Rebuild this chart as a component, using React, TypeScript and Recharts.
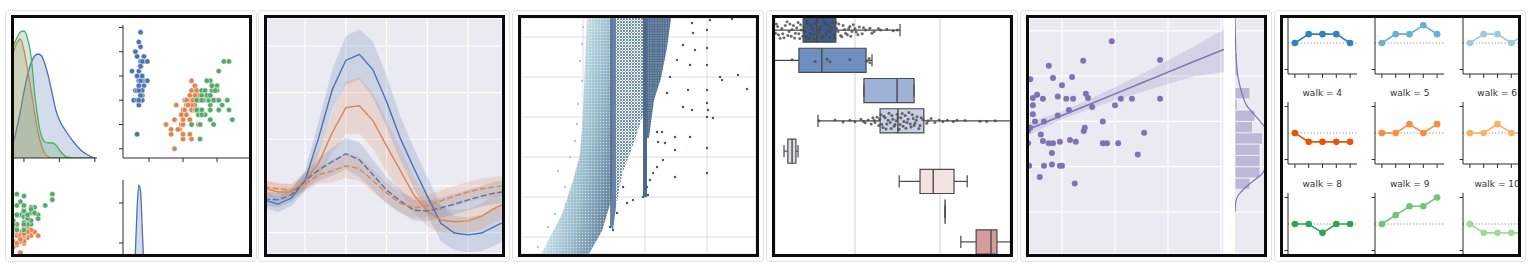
import React from 'react';
import {
  ComposedChart,
  LineChart,
  Line,
  Area,
  Scatter,
  XAxis,
  YAxis,
  CartesianGrid,
  ReferenceLine,
  ReferenceArea,
} from 'recharts';

// seaborn "deep" colours
const BLUE = '#4c72b0';
const ORANGE = '#dd8452';
const GREEN = '#55a868';
const PURPLE = '#8172b3';
const INK = '#2b2b2b';

// ---------- panel 1: iris pair plot (sepal width / petal length) ----------
const setosaSepalWidth = [3.5, 3.0, 3.2, 3.1, 3.6, 3.9, 3.4, 3.4, 2.9, 3.1, 3.7, 3.4, 3.0, 3.0, 4.0, 4.4, 3.9, 3.5, 3.8, 3.8, 3.4, 3.7, 3.6, 3.3, 3.4, 3.0, 3.4, 3.5, 3.4, 3.2, 3.1, 3.4, 4.1, 4.2, 3.1, 3.2, 3.5, 3.1, 3.0, 3.4, 3.5, 2.3, 3.2, 3.5, 3.8, 3.0, 3.8, 3.2, 3.7, 3.3];
const setosaPetalLength = [1.4, 1.4, 1.3, 1.5, 1.4, 1.7, 1.4, 1.5, 1.4, 1.5, 1.5, 1.6, 1.4, 1.1, 1.2, 1.5, 1.3, 1.4, 1.7, 1.5, 1.7, 1.5, 1.0, 1.7, 1.9, 1.6, 1.6, 1.5, 1.4, 1.6, 1.6, 1.5, 1.5, 1.4, 1.5, 1.2, 1.3, 1.5, 1.3, 1.5, 1.3, 1.3, 1.3, 1.6, 1.9, 1.4, 1.6, 1.4, 1.5, 1.4];
const versicolorSepalWidth = [3.2, 3.2, 3.1, 2.3, 2.8, 2.8, 3.3, 2.4, 2.9, 2.7, 2.0, 3.0, 2.2, 2.9, 2.9, 3.1, 3.0, 2.7, 2.2, 2.5, 3.2, 2.8, 2.5, 2.8, 2.9, 3.0, 2.8, 3.0, 2.9, 2.6, 2.4, 2.4, 2.7, 2.7, 3.0, 3.4, 3.1, 2.3, 3.0, 2.5, 2.6, 3.0, 2.6, 2.3, 2.7, 3.0, 2.9, 2.9, 2.5, 2.8];
const versicolorPetalLength = [4.7, 4.5, 4.9, 4.0, 4.6, 4.5, 4.7, 3.3, 4.6, 3.9, 3.5, 4.2, 4.0, 4.7, 3.6, 4.4, 4.5, 4.1, 4.5, 3.9, 4.8, 4.0, 4.9, 4.7, 4.3, 4.4, 4.8, 5.0, 4.5, 3.5, 3.8, 3.7, 3.9, 5.1, 4.5, 4.5, 4.7, 4.4, 4.1, 4.0, 4.4, 4.6, 4.0, 3.3, 4.2, 4.2, 4.2, 4.3, 3.0, 4.1];
const virginicaSepalWidth = [3.3, 2.7, 3.0, 2.9, 3.0, 3.0, 2.5, 2.9, 2.5, 3.6, 3.2, 2.7, 3.0, 2.5, 2.8, 3.2, 3.0, 3.8, 2.6, 2.2, 3.2, 2.8, 2.8, 2.7, 3.3, 3.2, 2.8, 3.0, 2.8, 3.0, 2.8, 3.8, 2.8, 2.8, 2.6, 3.0, 3.4, 3.1, 3.0, 3.1, 3.1, 3.1, 2.7, 3.2, 3.3, 3.0, 2.5, 3.0, 3.4, 3.0];
const virginicaPetalLength = [6.0, 5.1, 5.9, 5.6, 5.8, 6.6, 4.5, 6.3, 5.8, 6.1, 5.1, 5.3, 5.5, 5.0, 5.1, 5.3, 5.5, 6.7, 6.9, 5.0, 5.7, 4.9, 6.7, 4.9, 5.7, 6.0, 4.8, 4.9, 5.6, 5.8, 6.1, 6.4, 5.6, 5.1, 5.6, 6.1, 5.6, 5.5, 4.8, 5.4, 5.6, 5.1, 5.1, 5.9, 5.7, 5.2, 5.0, 5.2, 5.4, 5.1];

// density curves
const sepalGrid = [2.0, 2.2, 2.4, 2.6, 2.7, 2.8, 2.9, 3.0, 3.1, 3.2, 3.3, 3.4, 3.5, 3.6, 3.7, 3.8, 3.9, 4.0, 4.2, 4.4, 4.6, 4.8, 5.0];
const setosaSepalKde = [0.0, 0.03, 0.07, 0.12, 0.16, 0.3, 0.47, 0.66, 0.83, 0.95, 1.02, 1.04, 1.02, 0.93, 0.8, 0.64, 0.48, 0.38, 0.26, 0.16, 0.08, 0.03, 0.0];
const versicolorSepalKde = [0.2, 0.45, 0.72, 0.92, 1.05, 1.15, 1.19, 1.08, 0.89, 0.68, 0.45, 0.25, 0.12, 0.04, 0.01, 0, 0, 0, 0, 0, 0, 0, 0];
const virginicaSepalKde = [0.08, 0.25, 0.5, 0.92, 1.11, 1.2, 1.26, 1.27, 1.2, 1.02, 0.66, 0.38, 0.21, 0.16, 0.15, 0.15, 0.13, 0.08, 0.01, 0, 0, 0, 0];
const petalGrid = [0.9, 1.0, 1.1, 1.2, 1.3, 1.4, 1.5, 1.6, 1.7, 1.8, 1.9, 2.0];
const setosaPetalKde = [0, 0.08, 0.3, 0.62, 1.05, 1.28, 1.22, 0.85, 0.45, 0.2, 0.07, 0.02];

// ---------- panel 2: fmri timeseries ----------
const timepoints = [0, 1, 2, 3, 4, 5, 6, 7, 8, 9, 10, 11, 12, 13, 14, 15, 16, 17, 18];
const stimParietal = [-0.03, -0.039, -0.026, 0.011, 0.103, 0.206, 0.269, 0.282, 0.249, 0.181, 0.103, 0.039, -0.022, -0.08, -0.101, -0.105, -0.101, -0.086, -0.073];
const stimParietalCi = [0.017, 0.017, 0.017, 0.022, 0.034, 0.043, 0.052, 0.054, 0.06, 0.056, 0.047, 0.043, 0.041, 0.039, 0.037, 0.037, 0.039, 0.041, 0.041];
const stimFrontal = [-0.004, -0.013, -0.013, 0.011, 0.049, 0.114, 0.168, 0.172, 0.14, 0.086, 0.034, -0.019, -0.054, -0.073, -0.077, -0.075, -0.065, -0.047, -0.034];
const stimFrontalCi = [0.017, 0.017, 0.017, 0.019, 0.03, 0.043, 0.056, 0.06, 0.06, 0.056, 0.047, 0.039, 0.032, 0.028, 0.026, 0.026, 0.028, 0.03, 0.032];
const cueParietal = [-0.028, -0.03, -0.019, 0.011, 0.034, 0.052, 0.069, 0.056, 0.024, -0.009, -0.032, -0.052, -0.054, -0.047, -0.039, -0.03, -0.022, -0.015, -0.011];
const cueParietalCi = [0.015, 0.015, 0.015, 0.017, 0.024, 0.03, 0.034, 0.037, 0.032, 0.028, 0.024, 0.022, 0.022, 0.022, 0.022, 0.022, 0.022, 0.024, 0.024];
const cueFrontal = [-0.002, -0.006, -0.009, 0.004, 0.024, 0.032, 0.043, 0.037, 0.011, -0.015, -0.037, -0.047, -0.043, -0.032, -0.022, -0.013, -0.006, -0.002, 0.002];
const cueFrontalCi = [0.013, 0.013, 0.013, 0.015, 0.019, 0.024, 0.026, 0.026, 0.024, 0.022, 0.022, 0.022, 0.022, 0.022, 0.022, 0.022, 0.022, 0.022, 0.022];

// ---------- panel 3: diamonds, carat vs price (k$) ----------
// dense regions as [carat, low price, high price]
const cloudMain = [[0.161, 1.15, 1.16], [0.194, 1.15, 1.5], [0.331, 1.15, 3.15], [0.419, 1.15, 4.8], [0.476, 1.15, 6.15], [0.5, 1.15, 8.15], [0.516, 1.15, 10.65], [0.532, 1.15, 12.95], [0.548, 1.15, 12.95], [0.653, 2.3, 12.95], [0.726, 3.8, 12.95], [0.734, 4.5, 12.95]];
const stripeSeven = [[0.718, 2.6, 12.95], [0.742, 2.35, 12.95], [0.766, 3.5, 12.95]];
const bandNine = [[0.766, 3.5, 12.95], [0.815, 5.15, 12.95], [0.895, 6.45, 12.95], [0.976, 7.95, 12.95], [0.984, 8.2, 12.95]];
const stripeOne = [[0.984, 4.0, 12.95], [1.016, 4.0, 12.95]];
const bandHeavy = [[1.016, 6.95, 12.95], [1.032, 6.95, 12.95], [1.073, 8.85, 12.95], [1.129, 9.95, 12.95], [1.177, 11.45, 12.95], [1.21, 12.95, 12.95]];
const darkDiamonds = [[1.5, 12.35], [1.5, 11.45], [1.5, 10.6], [1.5, 9.35], [1.5, 8.7], [1.508, 8.35], [1.5, 8.0], [1.548, 7.95], [1.5, 6.45], [1.5, 5.2], [1.605, 10.0], [1.621, 9.85], [1.75, 10.1], [1.823, 9.4], [1.702, 12.9], [1.363, 10.6], [1.306, 8.5], [1.379, 8.35], [1.347, 9.35], [1.363, 7.0], [1.242, 6.35], [1.242, 7.0], [1.242, 5.0], [1.161, 6.7], [1.097, 7.25], [1.137, 7.25], [1.105, 6.75], [1.065, 5.2], [1.04, 4.85], [1.016, 4.5], [1.097, 5.5], [1.145, 5.85], [1.306, 11.6], [1.258, 10.85], [1.202, 10.0], [1.177, 9.2], [1.024, 4.1], [0.984, 4.0], [0.903, 3.85], [0.855, 3.7], [0.823, 4.5], [0.774, 3.2], [0.742, 2.35], [0.718, 2.5], [1.387, 12.2], [1.379, 12.7], [1.524, 12.85], [1.403, 11.35]];
const lightDiamonds = [[0.298, 5.3], [0.452, 7.65], [0.492, 9.8], [0.5, 12.5], [0.355, 4.5], [0.395, 6.0], [0.435, 6.8], [0.46, 8.65], [0.476, 10.8], [0.492, 11.65], [0.137, 1.5], [0.218, 2.5], [0.274, 3.15]];

// ---------- panel 4: planets, log10 orbital period by method ----------
const methodRows = [0, 1, 2, 3, 4, 5, 6, 7];
const methodColors = ['#3f5b89', '#6f8fc1', '#9eb1d6', '#c8cfe3', '#dedde6', '#f3e2e2', '#e8c4c4', '#d49c9a'];
const periodLow = [-0.05, -0.1, 2.21, 1.13, 0.33, 3.04, 4.12, 4.49];
const periodQ1 = [0.78, 0.68, 2.21, 2.59, 0.42, 3.53, 4.12, 4.85];
const periodMedian = [1.1, 1.22, 2.99, 3.01, 0.52, 3.84, 4.12, 5.2];
const periodQ3 = [1.55, 2.26, 3.39, 3.62, 0.61, 4.33, 4.12, 5.34];
const periodHigh = [3.06, 2.4, 3.39, 5.8, 0.66, 4.64, 4.12, 5.8];
// strip points as [log10 period, row position]
const stripPoints = [
  [0.15, -0.2], [0.2, 0.15], [0.28, -0.05], [0.33, 0.25], [0.4, -0.28], [0.45, 0.05], [0.5, 0.2], [0.55, -0.15], [0.6, 0.1], [0.66, -0.25], [0.7, 0.28], [0.74, 0.0], [0.8, -0.1], [0.85, 0.22], [0.9, -0.22], [0.95, 0.12], [1.0, -0.05], [1.05, 0.3], [1.1, -0.3], [1.15, 0.08], [1.2, -0.12], [1.25, 0.2], [1.3, -0.2], [1.35, 0.02], [1.4, 0.25], [1.45, -0.08], [1.5, 0.15], [1.55, -0.25], [1.6, 0.05], [1.66, 0.18], [1.72, -0.15], [1.78, 0.1], [1.85, -0.05], [1.9, 0.2], [1.96, -0.18], [2.03, 0.06], [2.1, -0.1], [2.17, 0.12], [2.25, 0.0], [2.35, -0.06], [2.45, 0.05], [2.6, 0.0], [2.75, -0.03], [2.9, 0.02],
  [0.13, 0.1], [0.18, -0.12], [0.24, 0.27], [0.3, 0.12], [0.36, -0.15], [0.42, 0.18], [0.47, -0.2], [0.52, -0.02], [0.58, 0.26], [0.63, -0.08], [0.68, 0.12], [0.72, -0.18], [0.77, 0.2], [0.82, 0.05], [0.87, -0.28], [0.92, 0.28], [0.97, -0.15], [1.02, 0.15], [1.07, -0.22], [1.12, 0.22], [1.17, -0.02], [1.22, 0.27], [1.27, -0.28], [1.32, 0.12], [1.37, -0.16], [1.42, 0.05], [1.47, -0.24], [1.52, 0.25], [1.57, -0.05], [1.62, -0.2], [1.69, 0.22], [1.75, -0.02], [1.82, 0.15], [1.88, -0.12], [1.93, 0.05], [2.0, -0.05], [2.07, 0.15], [2.2, -0.08], [2.4, 0.1], [2.55, -0.05], [3.0, 0.0],
  [0.52, 0.98], [1.06, 1.04], [1.34, 0.96], [1.41, 1.05], [1.88, 0.97], [2.28, 1.03], [2.33, 0.94], [2.35, 1.08],
  [1.15, 3.0], [1.53, 2.97], [1.72, 3.04], [1.88, 2.98], [2.0, 3.03], [2.14, 2.95], [2.24, 3.06], [2.31, 2.97], [2.38, 3.1], [2.42, 2.9], [2.47, 3.05], [2.52, 2.88], [2.56, 3.15], [2.61, 2.8], [2.66, 3.22], [2.71, 2.9], [2.75, 3.1], [2.8, 2.75], [2.85, 3.25], [2.89, 2.95], [2.94, 3.12], [2.99, 2.78], [3.04, 3.28], [3.08, 2.9], [3.13, 3.18], [3.18, 2.82], [3.22, 3.05], [3.27, 2.72], [3.32, 3.2], [3.37, 2.92], [3.41, 3.08], [3.46, 2.86], [3.53, 3.15], [3.6, 2.96], [3.69, 3.08], [3.79, 2.92], [3.88, 3.05], [3.98, 2.97], [4.07, 3.03], [4.17, 2.98], [4.31, 3.02], [4.59, 2.99], [4.94, 3.01], [5.3, 3.0],
  [2.58, 2.95], [2.63, 3.12], [2.68, 2.85], [2.73, 3.27], [2.78, 2.98], [2.83, 3.05], [2.87, 2.82], [2.92, 3.18], [2.97, 3.0], [3.01, 2.9], [3.06, 3.12], [3.11, 2.76], [3.15, 3.02], [3.2, 3.24], [3.25, 2.95], [3.3, 3.1], [3.35, 2.8], [3.39, 3.15], [3.44, 2.98], [3.5, 3.25], [3.56, 2.9], [2.2, 3.02], [2.45, 2.98], [3.72, 3.0], [4.4, 2.98], [5.1, 3.02],
];

// ---------- panel 5: regression with marginal histogram ----------
const regPoints = [[1.94, 3.77], [1.4, 3.34], [2.85, 3.36], [0.75, 3.23], [0.83, 2.96], [1.19, 2.98], [0.4, 2.93], [1.0, 2.8], [0.53, 2.59], [0.45, 2.52], [0.64, 2.5], [0.92, 2.55], [1.08, 2.5], [1.21, 2.5], [1.45, 2.61], [1.49, 2.52], [2.11, 2.5], [2.32, 2.5], [2.85, 2.5], [0.45, 2.36], [2.0, 2.36], [1.57, 2.32], [1.13, 2.25], [0.92, 2.13], [0.45, 2.16], [0.49, 2.0], [0.66, 2.0], [1.77, 2.0], [0.4, 1.86], [1.43, 1.86], [1.41, 1.79], [2.55, 1.75], [0.6, 1.71], [0.64, 1.57], [0.75, 1.52], [0.83, 1.52], [0.96, 1.55], [1.15, 1.59], [1.26, 1.55], [1.77, 1.52], [1.85, 1.52], [2.06, 1.52], [0.81, 1.3], [2.43, 1.27], [0.38, 1.02], [0.66, 1.02], [0.81, 1.05], [0.96, 1.02], [1.0, 1.02], [0.58, 0.77], [1.24, 0.63], [0.36, 1.8], [0.36, 1.52]];
const fitX = [0.377, 1.0, 1.5, 2.0, 2.5, 3.0, 3.5, 4.057];
const fitY = [1.83, 2.13, 2.37, 2.61, 2.85, 3.09, 3.33, 3.59];
const fitLow = [1.7, 2.04, 2.27, 2.47, 2.65, 2.83, 3.0, 3.09];
const fitHigh = [1.97, 2.22, 2.48, 2.76, 3.05, 3.35, 3.66, 4.04];
const binLow = [0.5, 0.75, 1.0, 1.25, 1.5, 1.75, 2.0, 2.25, 2.5, 2.75, 3.0, 3.25];
const binCount = [6, 10, 10, 10, 11, 7, 8, 1, 6, 0, 1, 1];
const margKdeY = [4.3, 3.8, 3.5, 2.98, 2.62, 2.34, 2.16, 1.98, 1.8, 1.6, 1.4, 1.2, 1.0, 0.82, 0.7, 0.55, 0.39, 0.25, 0.0];
const margKdeCount = [0, 0.2, 0.4, 1.2, 2.8, 4.8, 7.6, 10.4, 13, 15, 15.5, 14.5, 12.5, 10.4, 7.6, 4.4, 1.6, 0.4, 0];

// ---------- panel 6: random walks facet grid ----------
const walkIds = [0, 1, 2, 4, 5, 6, 8, 9, 10];
const walkColors = ['#3182bd', '#6baed6', '#9ecae1', '#e6550d', '#fd8d3c', '#fdae6b', '#31a354', '#74c476', '#a1d99b'];
const walkSteps = [
  [0, 1, 1, 1, 0],
  [0, 1, 1, 2, 1],
  [0, 1, 1, 0, 1],
  [0, -1, -1, -1, -1],
  [0, 0, 1, 0, 1],
  [0, 0, 1, 0, 0],
  [0, 0, -1, 0, 0],
  [0, 1, 2, 2, 3],
  [0, -1, -1, -1, -1],
];

// ---------- helpers ----------
const M0 = { top: 0, right: 0, bottom: 0, left: 0 };
const AX = { stroke: INK, strokeWidth: 1 };
const noLabel = () => '';
const xy = (pairs: number[][]) => pairs.map(([x, y]) => ({ x, y }));
const zipXY = (xs: number[], ys: number[]) => xs.map((x, i) => ({ x, y: ys[i] }));
const bandRows = (rows: number[][]) => rows.map(([x, lo, hi]) => ({ x, band: [lo, hi] }));
const dot = (fill: string, r: number, edge?: string, opacity = 1) => (p: any) =>
  p.cx == null ? <g /> : <circle cx={p.cx} cy={p.cy} r={r} fill={fill} fillOpacity={opacity} stroke={edge || 'none'} strokeWidth={edge ? 0.5 : 0} />;
const noDot = () => <g />;

const Pos = ({ left, top, children }: any) => (
  <div style={{ position: 'absolute', left, top }}>{children}</div>
);

const sepalKdeRows = sepalGrid.map((x, i) => ({
  x,
  setosa: setosaSepalKde[i],
  versicolor: versicolorSepalKde[i],
  virginica: virginicaSepalKde[i],
}));
const petalKdeRows = petalGrid.map((x, i) => ({ x, setosa: setosaPetalKde[i] }));
const species = [
  { key: 'setosa', color: BLUE, sw: setosaSepalWidth, pl: setosaPetalLength },
  { key: 'versicolor', color: ORANGE, sw: versicolorSepalWidth, pl: versicolorPetalLength },
  { key: 'virginica', color: GREEN, sw: virginicaSepalWidth, pl: virginicaPetalLength },
];

function PairPanel() {
  return (
    <>
      <Pos left={-50} top={7}>
        <ComposedChart width={133} height={138} data={sepalKdeRows} margin={M0}>
          <XAxis type="number" dataKey="x" domain={[1.31, 5.06]} allowDataOverflow ticks={[3, 4, 5]} height={5} tickSize={4} tickFormatter={noLabel} axisLine={AX} tickLine={AX} />
          <YAxis hide type="number" domain={[0, 1.33]} allowDataOverflow />
          {species.map((s) => (
            <Area key={s.key} type="monotone" dataKey={s.key} stroke={s.color} strokeWidth={1.3} fill={s.color} fillOpacity={0.25} isAnimationActive={false} />
          ))}
        </ComposedChart>
      </Pos>
      <Pos left={104} top={7}>
        <ComposedChart width={138} height={138} margin={M0}>
          <XAxis type="number" dataKey="x" domain={[0.47, 8.29]} allowDataOverflow ticks={[2, 4, 6]} height={5} tickSize={4} tickFormatter={noLabel} axisLine={AX} tickLine={AX} />
          <YAxis type="number" dataKey="y" domain={[1.81, 4.55]} allowDataOverflow ticks={[2, 2.5, 3, 3.5, 4, 4.5]} width={5} tickSize={4} tickFormatter={noLabel} axisLine={AX} tickLine={AX} />
          {species.map((s) => (
            <Scatter key={s.key} data={zipXY(s.pl, s.sw)} shape={dot(s.color, 2.7, '#fff')} isAnimationActive={false} />
          ))}
        </ComposedChart>
      </Pos>
      <Pos left={-50} top={162}>
        <ComposedChart width={133} height={133} margin={M0}>
          <XAxis hide type="number" dataKey="x" domain={[1.31, 5.06]} allowDataOverflow />
          <YAxis hide type="number" dataKey="y" domain={[0.4, 7.45]} allowDataOverflow />
          {species.map((s) => (
            <Scatter key={s.key} data={zipXY(s.sw, s.pl)} shape={dot(s.color, 2.7, '#fff')} isAnimationActive={false} />
          ))}
        </ComposedChart>
      </Pos>
      <Pos left={104} top={162}>
        <ComposedChart width={138} height={138} data={petalKdeRows} margin={M0}>
          <XAxis type="number" dataKey="x" domain={[0.47, 8.29]} allowDataOverflow ticks={[2, 4, 6]} height={5} tickSize={4} tickFormatter={noLabel} axisLine={AX} tickLine={AX} />
          <YAxis type="number" domain={[0, 1.33]} allowDataOverflow ticks={[0.7, 1.1]} width={5} tickSize={4} tickFormatter={noLabel} axisLine={AX} tickLine={AX} />
          <Area type="monotone" dataKey="setosa" stroke={BLUE} strokeWidth={1.3} fill={BLUE} fillOpacity={0.25} isAnimationActive={false} />
        </ComposedChart>
      </Pos>
    </>
  );
}

const fmriSeries = [
  { key: 'stimParietal', color: BLUE, mean: stimParietal, ci: stimParietalCi, dash: undefined },
  { key: 'stimFrontal', color: ORANGE, mean: stimFrontal, ci: stimFrontalCi, dash: undefined },
  { key: 'cueParietal', color: BLUE, mean: cueParietal, ci: cueParietalCi, dash: '6 2.5' },
  { key: 'cueFrontal', color: ORANGE, mean: cueFrontal, ci: cueFrontalCi, dash: '6 2.5' },
];
const fmriRows = timepoints.map((t, i) => {
  const row: any = { x: t };
  fmriSeries.forEach((s) => {
    row[s.key] = s.mean[i];
    row[s.key + 'Band'] = [s.mean[i] - s.ci[i], s.mean[i] + s.ci[i]];
  });
  return row;
});

function FmriPanel() {
  return (
    <ComposedChart width={235} height={236} data={fmriRows} margin={M0}>
      <CartesianGrid stroke="#ffffff" strokeWidth={1.2} fill="#eaeaf2" />
      <XAxis hide type="number" dataKey="x" domain={[0.2, 17.5]} ticks={[3, 6, 9, 12, 15]} allowDataOverflow />
      <YAxis hide type="number" domain={[-0.146, 0.36]} ticks={[-0.1, 0, 0.1, 0.2, 0.3]} allowDataOverflow />
      {fmriSeries.map((s) => (
        <Area key={s.key + 'Band'} type="linear" dataKey={s.key + 'Band'} stroke="none" fill={s.color} fillOpacity={0.2} isAnimationActive={false} />
      ))}
      {fmriSeries.map((s) => (
        <Line key={s.key} type="linear" dataKey={s.key} stroke={s.color} strokeWidth={1.4} strokeDasharray={s.dash} dot={false} isAnimationActive={false} />
      ))}
    </ComposedChart>
  );
}

function DiamondPanel() {
  return (
    <ComposedChart width={235} height={236} margin={M0}>
      <defs>
        <linearGradient id="cloudFill" x1="0.3" y1="0.45" x2="0.95" y2="0.85">
          <stop offset="0" stopColor="#c4dfe6" />
          <stop offset="0.5" stopColor="#86afc1" />
          <stop offset="1" stopColor="#46698c" />
        </linearGradient>
        <pattern id="speckle" width="3" height="3" patternUnits="userSpaceOnUse">
          <circle cx="1.5" cy="1.5" r="0.75" fill="#ffffff" />
        </pattern>
        <pattern id="dotsMid" width="3" height="3" patternUnits="userSpaceOnUse">
          <circle cx="1" cy="1" r="1.05" fill="#587d9e" />
          <circle cx="2.5" cy="2.4" r="0.6" fill="#8fb0c5" />
        </pattern>
        <pattern id="dotsDark" width="2.5" height="2.5" patternUnits="userSpaceOnUse">
          <rect width="2.5" height="2.5" fill="#8aa3ba" />
          <circle cx="1.25" cy="1.25" r="1.05" fill="#3d5a7f" />
        </pattern>
      </defs>
      <CartesianGrid stroke="#dddddd" />
      <XAxis hide type="number" dataKey="x" domain={[0, 1.895]} ticks={[0.5, 1, 1.5]} allowDataOverflow />
      <YAxis hide type="number" dataKey="y" domain={[1.15, 12.95]} ticks={[2, 4, 6, 8, 10, 12]} allowDataOverflow />
      <Area data={bandRows(cloudMain)} type="linear" dataKey="band" stroke="none" fill="url(#cloudFill)" fillOpacity={0.85} isAnimationActive={false} />
      <Area data={bandRows(cloudMain)} type="linear" dataKey="band" stroke="none" fill="url(#speckle)" fillOpacity={0.55} isAnimationActive={false} />
      <Area data={bandRows(bandNine)} type="linear" dataKey="band" stroke="none" fill="url(#dotsMid)" fillOpacity={1} isAnimationActive={false} />
      <Area data={bandRows(stripeSeven)} type="linear" dataKey="band" stroke="none" fill="#4c6d90" fillOpacity={0.85} isAnimationActive={false} />
      <Area data={bandRows(bandHeavy)} type="linear" dataKey="band" stroke="none" fill="url(#dotsDark)" fillOpacity={1} isAnimationActive={false} />
      <Area data={bandRows(stripeOne)} type="linear" dataKey="band" stroke="none" fill="#3d5a7f" fillOpacity={0.9} isAnimationActive={false} />
      <Scatter data={xy(lightDiamonds)} shape={dot('#a9cdd8', 1.2)} isAnimationActive={false} />
      <Scatter data={xy(darkDiamonds)} shape={dot('#41597c', 1.2)} isAnimationActive={false} />
    </ComposedChart>
  );
}

function PlanetPanel() {
  return (
    <ComposedChart width={235} height={236} margin={M0}>
      <CartesianGrid horizontal={false} stroke="#cfcfcf" />
      <XAxis hide type="number" dataKey="x" domain={[0.118, 5.647]} ticks={[2, 4]} allowDataOverflow />
      <YAxis hide type="number" dataKey="y" domain={[-0.4, 7.4]} reversed allowDataOverflow />
      {methodRows.map((r) => (
        <ReferenceLine key={'wl' + r} segment={[{ x: periodLow[r], y: r }, { x: periodQ1[r], y: r }]} stroke="#4a4a4a" strokeWidth={1.2} ifOverflow="hidden" />
      ))}
      {methodRows.map((r) => (
        <ReferenceLine key={'wh' + r} segment={[{ x: periodQ3[r], y: r }, { x: periodHigh[r], y: r }]} stroke="#4a4a4a" strokeWidth={1.2} ifOverflow="hidden" />
      ))}
      {methodRows.map((r) => (
        <ReferenceLine key={'cl' + r} segment={[{ x: periodLow[r], y: r - 0.2 }, { x: periodLow[r], y: r + 0.2 }]} stroke="#4a4a4a" strokeWidth={1.2} ifOverflow="hidden" />
      ))}
      {methodRows.map((r) => (
        <ReferenceLine key={'ch' + r} segment={[{ x: periodHigh[r], y: r - 0.2 }, { x: periodHigh[r], y: r + 0.2 }]} stroke="#4a4a4a" strokeWidth={1.2} ifOverflow="hidden" />
      ))}
      {methodRows.map((r) => (
        <ReferenceArea key={'b' + r} x1={periodQ1[r]} x2={periodQ3[r]} y1={r - 0.4} y2={r + 0.4} fill={methodColors[r]} fillOpacity={1} stroke="#4a4a4a" strokeWidth={1.2} ifOverflow="hidden" />
      ))}
      {methodRows.map((r) => (
        <ReferenceLine key={'m' + r} segment={[{ x: periodMedian[r], y: r - 0.4 }, { x: periodMedian[r], y: r + 0.4 }]} stroke="#4a4a4a" strokeWidth={1.4} ifOverflow="hidden" />
      ))}
      <Scatter data={xy(stripPoints)} shape={dot('#474747', 1.5, undefined, 0.8)} isAnimationActive={false} />
    </ComposedChart>
  );
}

const fitRows = fitX.map((x, i) => ({ x, fit: fitY[i], band: [fitLow[i], fitHigh[i]] }));
const margKdeRows = margKdeY.map((y, i) => ({ x: margKdeCount[i], y }));

function RegressionPanel() {
  return (
    <>
      <Pos left={0} top={0}>
        <ComposedChart width={195} height={236} data={fitRows} margin={M0}>
          <CartesianGrid stroke="#ffffff" strokeWidth={1.2} fill="#eaeaf2" />
          <XAxis hide type="number" dataKey="x" domain={[0.377, 4.057]} ticks={[1, 2, 3, 4]} allowDataOverflow />
          <YAxis hide type="number" dataKey="y" domain={[-0.93, 4.286]} ticks={[0, 1, 2, 3, 4]} allowDataOverflow />
          <Scatter data={xy(regPoints)} shape={dot(PURPLE, 3)} isAnimationActive={false} />
          <Area type="linear" dataKey="band" stroke="none" fill={PURPLE} fillOpacity={0.2} isAnimationActive={false} />
          <Line type="linear" dataKey="fit" stroke={PURPLE} strokeWidth={1.5} dot={false} isAnimationActive={false} />
        </ComposedChart>
      </Pos>
      <Pos left={206} top={0}>
        <ComposedChart width={42} height={236} margin={M0}>
          <CartesianGrid vertical={false} stroke="#ffffff" strokeWidth={1.2} fill="#eaeaf2" />
          <XAxis hide type="number" dataKey="x" domain={[0, 16.8]} allowDataOverflow />
          <YAxis hide type="number" dataKey="y" domain={[-0.93, 4.286]} ticks={[0, 1, 2, 3, 4]} allowDataOverflow />
          {binLow.map((lo, i) =>
            binCount[i] > 0 ? (
              <ReferenceArea key={lo} x1={0} x2={binCount[i]} y1={lo} y2={lo + 0.25} fill={PURPLE} fillOpacity={0.42} stroke="#ffffff" strokeWidth={0.6} ifOverflow="hidden" />
            ) : null,
          )}
          <Scatter data={margKdeRows} line={{ stroke: PURPLE, strokeWidth: 1.2 }} lineJointType="monotoneY" shape={noDot} isAnimationActive={false} />
        </ComposedChart>
      </Pos>
    </>
  );
}

// facet layout of the walk grid (inside the framed box)
const FACET_LEFT = [4.8, 92.2, 179.6];
const FACET_TOP = [-6.2, 84.4, 175.0];

function WalkPanel() {
  return (
    <>
      {walkIds.map((id, i) => {
        const col = i % 3;
        const row = Math.floor(i / 3);
        const color = walkColors[i];
        const rows = walkSteps[i].map((y, x) => ({ x, y }));
        return (
          <React.Fragment key={id}>
            {row > 0 && (
              <div
                style={{
                  position: 'absolute',
                  left: FACET_LEFT[col] + 34.5,
                  top: FACET_TOP[row] - 9.5,
                  transform: 'translate(-50%, -50%)',
                  whiteSpace: 'nowrap',
                  fontFamily: '"DejaVu Sans", sans-serif',
                  fontSize: 9,
                  lineHeight: '11px',
                  color: '#333',
                }}
              >
                {`walk = ${id}`}
              </div>
            )}
            <Pos left={FACET_LEFT[col] - 5} top={FACET_TOP[row]}>
              <LineChart width={74} height={67} data={rows} margin={M0}>
                <XAxis type="number" dataKey="x" domain={[-0.5, 4.5]} ticks={[0, 1, 2, 3, 4]} allowDataOverflow height={5} tickSize={4} tickFormatter={noLabel} axisLine={AX} tickLine={AX} />
                <YAxis type="number" domain={[-3.5, 3.5]} ticks={[-3, 3]} allowDataOverflow width={5} tickSize={3.5} tickFormatter={noLabel} axisLine={AX} tickLine={AX} />
                <ReferenceLine y={0} stroke="#8f8f8f" strokeWidth={1} strokeDasharray="1.2 2" />
                <Line type="linear" dataKey="y" stroke={color} strokeWidth={1.6} dot={{ r: 3.3, fill: color, stroke: color, strokeWidth: 0 }} isAnimationActive={false} />
              </LineChart>
            </Pos>
          </React.Fragment>
        );
      })}
    </>
  );
}

const BOX_LEFTS = [11, 264, 518, 772, 1026, 1280];
const PANELS = [PairPanel, FmriPanel, DiamondPanel, PlanetPanel, RegressionPanel, WalkPanel];
const PANEL_BG = ['#fff', '#eaeaf2', '#fff', '#fff', '#fff', '#fff'];

export default function App() {
  return (
    <div style={{ position: 'absolute', left: 0, top: 0, width: 1533, height: 269, background: '#fff', overflow: 'hidden' }}>
      {PANELS.map((Panel, i) => (
        <React.Fragment key={i}>
          <div
            style={{
              position: 'absolute',
              left: BOX_LEFTS[i] - 6,
              top: 10,
              width: 252,
              height: 252,
              boxSizing: 'border-box',
              border: '1px solid #e2e2e2',
              borderRadius: 4,
            }}
          />
          <div
            style={{
              position: 'absolute',
              left: BOX_LEFTS[i],
              top: 15,
              width: 235,
              height: 236,
              border: '3px solid #0b0b0b',
              overflow: 'hidden',
              background: PANEL_BG[i],
            }}
          >
            <Panel />
          </div>
        </React.Fragment>
      ))}
    </div>
  );
}
